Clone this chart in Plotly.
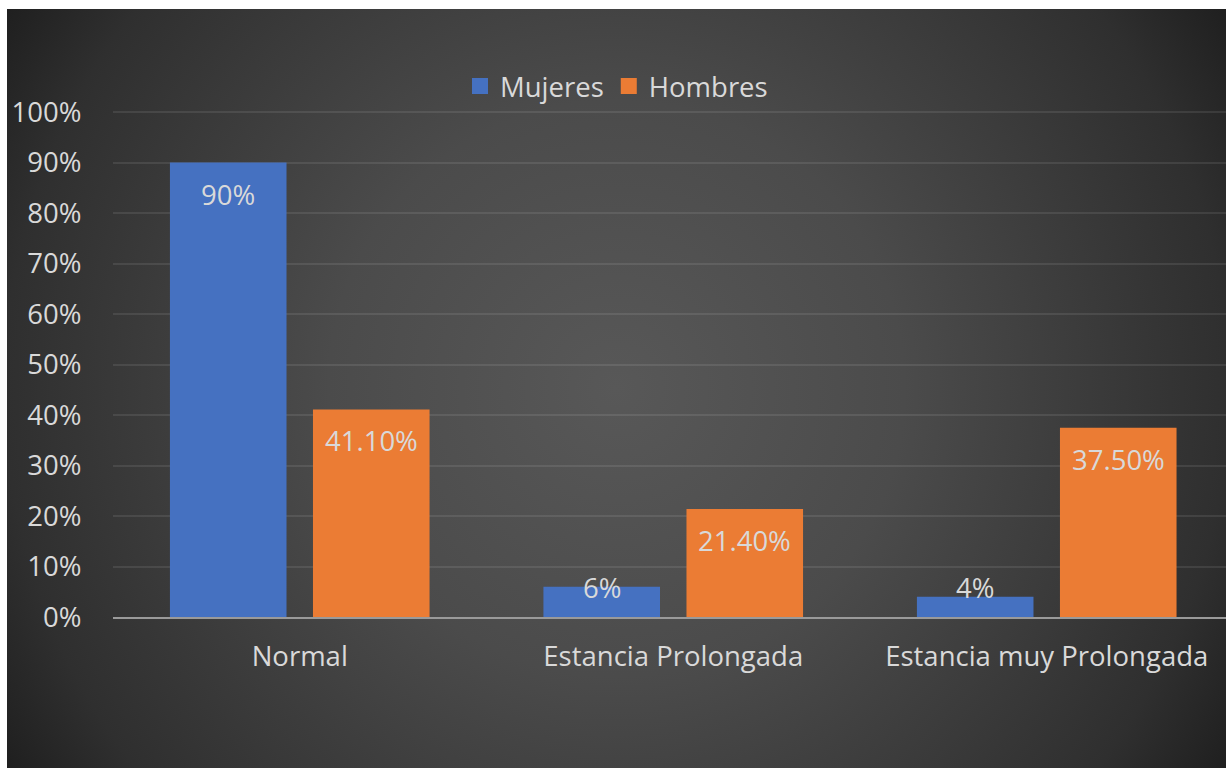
import base64
import plotly.graph_objects as go

# ---- data -------------------------------------------------------------
categorias = ["Normal", "Estancia Prolongada", "Estancia muy Prolongada"]
mujeres = [0.90, 0.06, 0.04]
hombres = [0.411, 0.214, 0.375]
etiquetas_mujeres = ["90%", "6%", "4%"]
etiquetas_hombres = ["41.10%", "21.40%", "37.50%"]

# ---- styling ----------------------------------------------------------
W, H = 1226, 768
ML, MR, MT, MB = 113, 0, 111, 151
FONT = "Open Sans"
FS = 27.5
TXT = "#d9d9d9"
AZUL = "#4571c1"
NARANJA = "#eb7c34"
BARGAP = 0.234
BARGROUPGAP = 0.185

plot_w = W - ML - MR
plot_h = H - MT - MB

# dark radial background of the chart area (white frame on top/left)
bx0, by0 = 7, 9
bw, bh = W - bx0, H - by0
svg = f"""<svg xmlns="http://www.w3.org/2000/svg" width="{bw}" height="{bh}" viewBox="0 0 {bw} {bh}">
<defs><radialGradient id="g" gradientUnits="userSpaceOnUse" cx="{bw/2:.1f}" cy="{bh/2:.1f}" r="720">
<stop offset="0" stop-color="#585858"/><stop offset="0.4" stop-color="#4b4b4b"/>
<stop offset="0.85" stop-color="#2f2f2f"/><stop offset="1" stop-color="#1f1f1f"/>
</radialGradient></defs><rect width="{bw}" height="{bh}" fill="url(#g)"/></svg>"""
bg_src = "data:image/svg+xml;base64," + base64.b64encode(svg.encode()).decode()

fig = go.Figure()
fig.add_trace(go.Bar(name="Mujeres", x=categorias, y=mujeres,
                     marker=dict(color=AZUL, line=dict(width=0)),
                     showlegend=False, hoverinfo="skip"))
fig.add_trace(go.Bar(name="Hombres", x=categorias, y=hombres,
                     marker=dict(color=NARANJA, line=dict(width=0)),
                     showlegend=False, hoverinfo="skip"))

# larger square legend keys
for nombre, color in (("Mujeres", AZUL), ("Hombres", NARANJA)):
    fig.add_trace(go.Scatter(x=[None], y=[None], mode="markers", name=nombre,
                             marker=dict(symbol="square", size=16, color=color),
                             hoverinfo="skip"))

# value labels just inside the top of each bar; short bars keep the
# label resting on the baseline
slot = (1 - BARGAP) / 2
annotations = []
for serie, textos, desp in ((mujeres, etiquetas_mujeres, -slot / 2),
                            (hombres, etiquetas_hombres, slot / 2)):
    for i, (v, t) in enumerate(zip(serie, textos)):
        if v >= 0.10:
            annotations.append(dict(x=i + desp, y=v, xref="x", yref="y", text=t,
                                    showarrow=False, yanchor="top", yshift=-11,
                                    font=dict(family=FONT, size=FS, color=TXT)))
        else:
            annotations.append(dict(x=i + desp, y=0, xref="x", yref="y", text=t,
                                    showarrow=False, yanchor="bottom", yshift=9,
                                    font=dict(family=FONT, size=FS, color=TXT)))

fig.update_layout(
    width=W, height=H,
    margin=dict(l=ML, r=MR, t=MT, b=MB, pad=0),
    paper_bgcolor="white",
    plot_bgcolor="rgba(0,0,0,0)",
    barmode="group", bargap=BARGAP, bargroupgap=BARGROUPGAP,
    font=dict(family=FONT, size=FS, color=TXT),
    showlegend=True,
    legend=dict(orientation="h", x=(W / 2 + bx0 / 2 - ML) / plot_w, y=(H - MB - 86) / plot_h,
                xanchor="center", yanchor="middle", bgcolor="rgba(0,0,0,0)",
                font=dict(family=FONT, size=FS, color=TXT), itemclick=False),
    xaxis=dict(type="category", range=[-0.5, 2.48], showgrid=False,
               showline=True, linecolor="#9a9a9a", linewidth=2,
               ticks="outside", ticklen=14, tickcolor="rgba(0,0,0,0)",
               tickfont=dict(family=FONT, size=FS, color=TXT), fixedrange=True),
    yaxis=dict(range=[0, 1.002], tickvals=[i / 10 for i in range(11)], tickformat=".0%",
               showgrid=True, gridcolor="rgba(255,255,255,0.09)", gridwidth=2, zeroline=False,
               showline=False, ticks="outside", ticklen=25, tickcolor="rgba(0,0,0,0)",
               tickfont=dict(family=FONT, size=FS, color=TXT), fixedrange=True),
    annotations=annotations,
    images=[dict(source=bg_src, xref="paper", yref="paper",
                 x=(bx0 - ML) / plot_w, y=(H - MB - by0) / plot_h,
                 sizex=bw / plot_w, sizey=bh / plot_h,
                 xanchor="left", yanchor="top", sizing="stretch", layer="below")],
)

fig.write_html("out.html", config={"displayModeBar": False})
